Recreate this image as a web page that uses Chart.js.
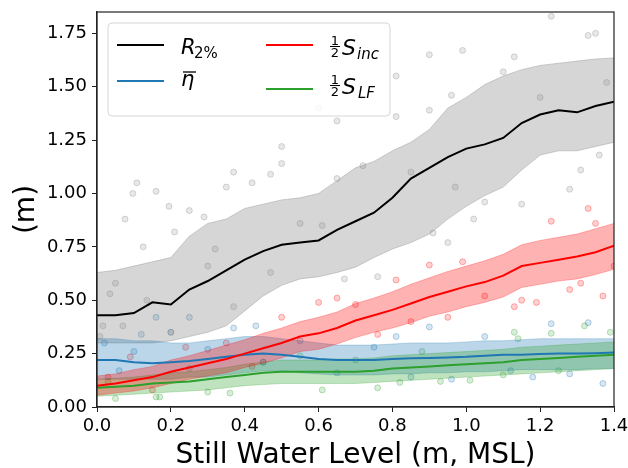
<!DOCTYPE html>
<html>
<head>
<meta charset="utf-8">
<script src="https://cdn.jsdelivr.net/npm/chart.js@4.4.0/dist/chart.umd.min.js"></script>
<style>
  body { margin: 0; background: #fff; }
  #wrap { width: 628px; height: 468px; }
</style>
</head>
<body>
<div id="wrap"><canvas id="myChart" width="628" height="468"></canvas></div>
<script>
// still water level grid (m, MSL)
var swl = [0, 0.05, 0.10, 0.15, 0.20, 0.25, 0.30, 0.35, 0.40, 0.45, 0.50, 0.55, 0.60, 0.65, 0.70,
           0.75, 0.80, 0.85, 0.90, 0.95, 1.00, 1.05, 1.10, 1.15, 1.20, 1.25, 1.30, 1.35, 1.40];

var r2 = [0.43, 0.43, 0.44, 0.49, 0.48, 0.55, 0.59, 0.64, 0.69, 0.73, 0.76, 0.77, 0.78, 0.83, 0.87,
          0.91, 0.98, 1.07, 1.12, 1.17, 1.21, 1.23, 1.26, 1.33, 1.37, 1.39, 1.38, 1.41, 1.43];
var r2Hi = [0.63, 0.64, 0.66, 0.68, 0.70, 0.80, 0.86, 0.88, 0.93, 0.95, 0.97, 0.98, 1.00, 1.06, 1.12,
            1.15, 1.20, 1.24, 1.30, 1.40, 1.45, 1.51, 1.55, 1.58, 1.60, 1.61, 1.62, 1.63, 1.635];
var r2Lo = [0.30, 0.30, 0.30, 0.30, 0.31, 0.33, 0.35, 0.38, 0.45, 0.52, 0.57, 0.60, 0.61, 0.63, 0.655,
            0.70, 0.74, 0.77, 0.81, 0.88, 0.94, 0.99, 1.03, 1.11, 1.18, 1.20, 1.20, 1.22, 1.24];

var eta = [0.22, 0.22, 0.21, 0.205, 0.21, 0.215, 0.225, 0.235, 0.245, 0.25, 0.245, 0.235, 0.225, 0.22, 0.22,
           0.22, 0.225, 0.228, 0.23, 0.232, 0.235, 0.24, 0.245, 0.245, 0.248, 0.25, 0.25, 0.252, 0.255];
var etaHi = [0.32, 0.32, 0.31, 0.31, 0.30, 0.30, 0.31, 0.32, 0.33, 0.33, 0.32, 0.31, 0.30, 0.29, 0.29,
             0.29, 0.295, 0.30, 0.30, 0.30, 0.305, 0.31, 0.31, 0.315, 0.32, 0.32, 0.32, 0.32, 0.32];
var etaLo = [0.13, 0.13, 0.13, 0.13, 0.13, 0.14, 0.14, 0.15, 0.16, 0.17, 0.17, 0.16, 0.155, 0.15, 0.15,
             0.15, 0.155, 0.155, 0.16, 0.16, 0.165, 0.165, 0.17, 0.175, 0.175, 0.175, 0.175, 0.18, 0.18];

var sInc = [0.10, 0.11, 0.125, 0.14, 0.165, 0.185, 0.205, 0.225, 0.25, 0.275, 0.30, 0.33, 0.345, 0.37, 0.405,
            0.43, 0.455, 0.485, 0.515, 0.54, 0.565, 0.585, 0.615, 0.66, 0.675, 0.69, 0.705, 0.725, 0.755];
var sIncHi = [0.145, 0.155, 0.175, 0.19, 0.22, 0.24, 0.265, 0.29, 0.315, 0.345, 0.37, 0.40, 0.42, 0.445, 0.485,
              0.51, 0.54, 0.575, 0.605, 0.635, 0.66, 0.685, 0.715, 0.76, 0.78, 0.795, 0.81, 0.835, 0.86];
var sIncLo = [0.055, 0.065, 0.075, 0.09, 0.11, 0.13, 0.145, 0.16, 0.185, 0.205, 0.23, 0.26, 0.27, 0.295, 0.325,
              0.35, 0.37, 0.395, 0.425, 0.445, 0.47, 0.49, 0.515, 0.56, 0.575, 0.59, 0.60, 0.62, 0.645];

var sLf = [0.09, 0.095, 0.10, 0.11, 0.115, 0.12, 0.13, 0.14, 0.15, 0.16, 0.165, 0.165, 0.165, 0.165, 0.165,
           0.17, 0.18, 0.185, 0.19, 0.195, 0.20, 0.205, 0.21, 0.22, 0.225, 0.23, 0.235, 0.24, 0.245];
var sLfHi = [0.13, 0.135, 0.14, 0.15, 0.16, 0.165, 0.175, 0.185, 0.20, 0.21, 0.22, 0.22, 0.22, 0.225, 0.225,
             0.23, 0.24, 0.245, 0.25, 0.255, 0.26, 0.265, 0.27, 0.28, 0.285, 0.29, 0.295, 0.30, 0.305];
var sLfLo = [0.05, 0.055, 0.06, 0.065, 0.07, 0.075, 0.08, 0.09, 0.10, 0.105, 0.11, 0.11, 0.11, 0.11, 0.11,
             0.115, 0.12, 0.125, 0.13, 0.135, 0.14, 0.145, 0.15, 0.155, 0.16, 0.165, 0.17, 0.175, 0.18];

// individual runs (faint markers)
var r2PtsX = [0.108, 0.097, 0.16, 0.195, 0.25, 0.37, 0.35, 0.42, 0.47, 0.50, 0.50, 0.60, 0.65, 0.65, 1.23, 0.90,
              0.99, 1.13, 1.33, 1.35, 0.81, 1.10, 0.96, 0.90, 0.81, 0.72, 1.28, 1.31, 1.36, 0.97, 1.05, 0.076,
              0.21, 0.125, 0.035, 0.016, 0.07, 0.135, 0.20, 0.29, 0.32, 0.37, 0.47, 0.61, 0.67, 0.91, 0.95,
              0.76, 1.02, 1.15, 0.008, 0.05, 0.30, 0.55, 0.85, 1.20, 1.38];
var r2PtsY = [1.05, 1.00, 1.01, 0.94, 0.92, 1.10, 1.03, 1.05, 1.09, 1.14, 1.22, 1.40, 1.34, 1.07, 1.83, 1.65,
              1.67, 1.64, 1.74, 1.75, 1.55, 1.57, 1.46, 1.39, 1.36, 1.13, 1.02, 1.11, 1.18, 1.03, 0.96, 0.88,
              0.82, 0.75, 0.53, 0.38, 0.38, 0.50, 0.35, 0.89, 0.74, 0.47, 0.63, 0.85, 0.60, 0.815, 0.77,
              0.61, 0.88, 0.95, 0.33, 0.58, 0.66, 0.86, 1.10, 1.45, 1.52];
var etaPtsX = [0.16, 0.25, 0.20, 0.12, 0.37, 0.43, 0.90, 0.81, 1.23, 1.33, 0.96, 1.18, 1.37, 1.28, 0.02, 0.06,
               0.30, 0.55, 0.65, 0.75, 1.05, 1.12, 0.45, 0.10, 0.85];
var etaPtsY = [0.42, 0.42, 0.35, 0.34, 0.37, 0.38, 0.375, 0.33, 0.39, 0.395, 0.13, 0.14, 0.11, 0.155, 0.30, 0.17,
               0.27, 0.31, 0.16, 0.28, 0.33, 0.17, 0.21, 0.26, 0.14];
var incPtsX = [1.23, 1.33, 1.35, 0.90, 0.81, 1.13, 1.15, 1.19, 1.37, 1.28, 1.31, 0.95, 0.76, 0.99, 0.60, 0.65,
               0.50, 0.24, 0.09, 0.03, 0.15, 0.35, 0.42, 0.70, 1.05, 1.40, 0.85];
var incPtsY = [0.87, 0.93, 0.86, 0.665, 0.595, 0.47, 0.50, 0.49, 0.52, 0.55, 0.58, 0.42, 0.34, 0.68, 0.49, 0.51,
               0.42, 0.28, 0.235, 0.14, 0.08, 0.30, 0.19, 0.48, 0.52, 0.66, 0.40];
var lfPtsX = [1.13, 1.14, 1.23, 1.32, 1.39, 0.76, 0.82, 0.93, 1.01, 0.17, 0.36, 0.61, 0.16, 0.05, 0.25, 0.45,
              0.55, 0.70, 1.10, 1.25, 0.03, 0.30, 0.88];
var lfPtsY = [0.35, 0.32, 0.345, 0.38, 0.35, 0.09, 0.115, 0.12, 0.125, 0.047, 0.065, 0.08, 0.047, 0.04, 0.18, 0.21,
              0.24, 0.22, 0.15, 0.17, 0.12, 0.07, 0.26];

var xTicks = [0, 0.2, 0.4, 0.6, 0.8, 1.0, 1.2, 1.4];
var yTicks = [0, 0.25, 0.5, 0.75, 1.0, 1.25, 1.5, 1.75];

function pts(xs, ys) {
    return xs.map(function (x, i) { return { x: x, y: ys[i] }; });
}

function line(data, color, order) {
    return { data: pts(swl, data), borderColor: color, borderWidth: 2, pointRadius: 0, fill: false, order: order };
}

function band(hi, lo, fillColor, edge, order) {
    return [
        { data: pts(swl, hi), borderColor: edge, borderWidth: 1, pointRadius: 0, backgroundColor: fillColor, fill: '+1', order: order },
        { data: pts(swl, lo), borderColor: edge, borderWidth: 1, pointRadius: 0, fill: false, order: order }
    ];
}

function dots(xs, ys, rgb) {
    return { data: pts(xs, ys), showLine: false, pointRadius: 3, pointBorderWidth: 1,
             pointBackgroundColor: 'rgba(' + rgb + ',0.18)', pointBorderColor: 'rgba(' + rgb + ',0.3)', order: 9 };
}

var FONT = "'DejaVu Sans', sans-serif";

var legendPlugin = {
    id: 'mplLegend',
    afterDraw: function (chart) {
        var c = chart.ctx;
        var a = chart.chartArea;
        c.save();
        // frame
        c.strokeStyle = '#222';
        c.lineWidth = 1.2;
        c.strokeRect(a.left, a.top, a.right - a.left, a.bottom - a.top);

        // legend box
        var bx = 108, by = 23, bw = 282, bh = 93, r = 4;
        c.beginPath();
        c.moveTo(bx + r, by);
        c.arcTo(bx + bw, by, bx + bw, by + bh, r);
        c.arcTo(bx + bw, by + bh, bx, by + bh, r);
        c.arcTo(bx, by + bh, bx, by, r);
        c.arcTo(bx, by, bx + bw, by, r);
        c.closePath();
        c.fillStyle = 'rgba(255,255,255,0.85)';
        c.fill();
        c.strokeStyle = '#d6d6d6';
        c.lineWidth = 1;
        c.stroke();

        function handle(x, y, color) {
            c.strokeStyle = color;
            c.lineWidth = 2;
            c.beginPath();
            c.moveTo(x, y);
            c.lineTo(x + 47, y);
            c.stroke();
        }
        handle(117, 45, '#000000');
        handle(117, 81, '#1f77b4');
        handle(266, 45, '#ff0000');
        handle(266, 89, '#2ca02c');

        c.fillStyle = '#000';
        c.textBaseline = 'alphabetic';
        c.textAlign = 'left';

        // R_2%
        c.font = 'italic 21px ' + FONT;
        c.fillText('R', 181, 54);
        c.font = '15px ' + FONT;
        c.fillText('2%', 194, 58);

        // eta bar
        c.font = 'italic 21px ' + FONT;
        c.fillText('\u03b7', 181, 86);
        c.lineWidth = 1.3;
        c.strokeStyle = '#000';
        c.beginPath();
        c.moveTo(183, 72);
        c.lineTo(196, 72);
        c.stroke();

        function half(x, yBar) {
            c.font = '13px ' + FONT;
            c.textAlign = 'center';
            c.fillText('1', x + 5, yBar - 1.5);
            c.fillText('2', x + 5, yBar + 11);
            c.textAlign = 'left';
            c.lineWidth = 1;
            c.beginPath();
            c.moveTo(x, yBar + 0.5);
            c.lineTo(x + 10, yBar + 0.5);
            c.stroke();
        }
        // 1/2 S_inc
        half(330, 46);
        c.font = 'italic 22px ' + FONT;
        c.fillText('S', 342, 55);
        c.font = 'italic 15px ' + FONT;
        c.fillText('inc', 357, 59);
        // 1/2 S_LF
        half(330, 85);
        c.font = 'italic 22px ' + FONT;
        c.fillText('S', 342, 94);
        c.font = 'italic 15px ' + FONT;
        c.fillText('LF', 358, 98);
        c.restore();
    }
};

function noPad(s) {
    s.paddingTop = 0;
    s.paddingBottom = 0;
    s.paddingLeft = 0;
    s.paddingRight = 0;
}

document.addEventListener('DOMContentLoaded', function () {
    var ctx = document.getElementById('myChart').getContext('2d');
    var datasets = [
        line(r2, '#000000', 1),
        line(sInc, '#ff0000', 1),
        line(eta, '#1f77b4', 1),
        line(sLf, '#2ca02c', 1)
    ];
    datasets = datasets
        .concat(band(sIncHi, sIncLo, 'rgba(255,0,0,0.3)', 'rgba(255,0,0,0.25)', 3))
        .concat(band(sLfHi, sLfLo, 'rgba(44,160,44,0.3)', 'rgba(44,160,44,0.25)', 3))
        .concat(band(etaHi, etaLo, 'rgba(31,119,180,0.3)', 'rgba(31,119,180,0.25)', 4))
        .concat(band(r2Hi, r2Lo, 'rgba(128,128,128,0.32)', 'rgba(128,128,128,0.35)', 5));
    datasets.push(dots(r2PtsX, r2PtsY, '128,128,128'));
    datasets.push(dots(etaPtsX, etaPtsY, '31,119,180'));
    datasets.push(dots(incPtsX, incPtsY, '255,0,0'));
    datasets.push(dots(lfPtsX, lfPtsY, '44,160,44'));

    var tickFont = { family: FONT, size: 18 };
    new Chart(ctx, {
        type: 'line',
        data: { datasets: datasets },
        options: {
            responsive: false,
            animation: false,
            layout: { padding: { top: 12, right: 14, left: 0, bottom: 0 } },
            plugins: { legend: { display: false }, tooltip: { enabled: false } },
            scales: {
                x: {
                    type: 'linear', min: 0, max: 1.4,
                    afterBuildTicks: function (s) { s.ticks = xTicks.map(function (v) { return { value: v }; }); },
                    afterFit: function (s) { s.height = 61; noPad(s); },
                    ticks: { font: tickFont, color: '#000', padding: 4, maxRotation: 0,
                             callback: function (v) { return v.toFixed(1); } },
                    grid: { drawOnChartArea: false, drawTicks: true, tickLength: 5, color: '#222' },
                    border: { color: '#222', width: 1.2 },
                    title: { display: true, text: 'Still Water Level (m, MSL)', color: '#000',
                             font: { family: FONT, size: 28 }, padding: { top: 0, bottom: -5 } }
                },
                y: {
                    type: 'linear', min: 0, max: 1.85,
                    afterBuildTicks: function (s) { s.ticks = yTicks.map(function (v) { return { value: v }; }); },
                    afterFit: function (s) { s.width = 97; noPad(s); },
                    ticks: { font: tickFont, color: '#000', padding: 5,
                             callback: function (v) { return v.toFixed(2); } },
                    grid: { drawOnChartArea: false, drawTicks: true, tickLength: 5, color: '#222' },
                    border: { color: '#222', width: 1.2 },
                    title: { display: true, text: '(m)', color: '#000',
                             font: { family: FONT, size: 28 }, padding: { top: 10, bottom: 0 } }
                }
            }
        },
        plugins: [legendPlugin]
    });
});
</script>
</body>
</html>
